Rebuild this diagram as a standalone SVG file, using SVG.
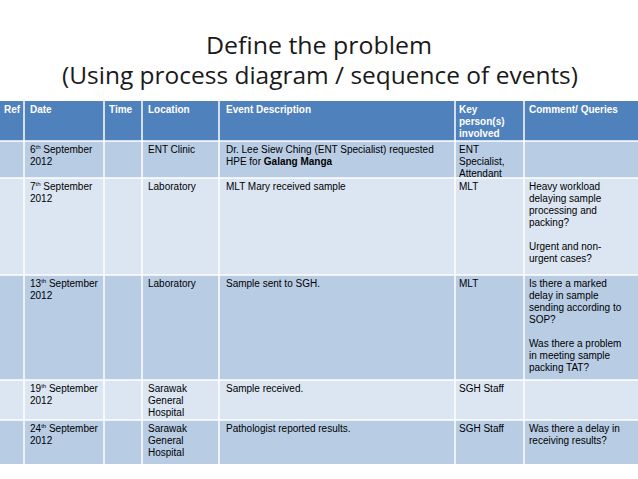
<svg xmlns="http://www.w3.org/2000/svg" width="638" height="479" viewBox="0 0 638 479">
<style>
.t{font-family:"Open Sans","DejaVu Sans",sans-serif;font-size:23px;fill:#1a1a1a;text-anchor:middle}
.h{font-family:"Liberation Sans",Arial,sans-serif;font-size:10px;font-weight:bold;fill:#fff}
.c{font-family:"Liberation Sans",Arial,sans-serif;font-size:10px;fill:#000}
.hd{fill:#4f81bd}.d{fill:#b8cce4}.l{fill:#dce6f2}
line{stroke:#fff;stroke-width:1.5}
</style>
<rect width="638" height="479" fill="#fff"/>
<text class="t" x="319" y="54" textLength="226" lengthAdjust="spacingAndGlyphs">Define the problem</text>
<text class="t" x="320" y="84" textLength="516" lengthAdjust="spacingAndGlyphs">(Using process diagram / sequence of events)</text>
<rect class="hd" x="0" y="101" width="638" height="40"/>
<rect class="d" x="0" y="141" width="638" height="37"/>
<rect class="l" x="0" y="178" width="638" height="97"/>
<rect class="d" x="0" y="275" width="638" height="105"/>
<rect class="l" x="0" y="380" width="638" height="40"/>
<rect class="d" x="0" y="420" width="638" height="44"/>
<g id="grid">
<line x1="0" y1="141" x2="638" y2="141" stroke-width="3"/>
<line x1="0" y1="178" x2="638" y2="178"/>
<line x1="0" y1="275" x2="638" y2="275"/>
<line x1="0" y1="380" x2="638" y2="380"/>
<line x1="0" y1="420" x2="638" y2="420"/>
<line x1="24" y1="101" x2="24" y2="464"/>
<line x1="104" y1="101" x2="104" y2="464"/>
<line x1="142" y1="101" x2="142" y2="464"/>
<line x1="219" y1="101" x2="219" y2="464"/>
<line x1="455" y1="101" x2="455" y2="464"/>
<line x1="524" y1="101" x2="524" y2="464"/>
</g>
<g id="header">
<text class="h" x="4" y="113">Ref</text>
<text class="h" x="30" y="113">Date</text>
<text class="h" x="109" y="113">Time</text>
<text class="h" x="148" y="113">Location</text>
<text class="h" x="226" y="113">Event Description</text>
<text class="h" x="459" y="113">Key</text>
<text class="h" x="459" y="125">person(s)</text>
<text class="h" x="459" y="137">involved</text>
<text class="h" x="529" y="113">Comment/ Queries</text>
</g>
<g id="row1">
<text class="c" x="30" y="153">6<tspan font-size="6" dy="-4">th</tspan><tspan dy="4"> September</tspan></text>
<text class="c" x="30" y="165">2012</text>
<text class="c" x="148" y="153">ENT Clinic</text>
<text class="c" x="226" y="153">Dr. Lee Siew Ching (ENT Specialist) requested</text>
<text class="c" x="226" y="165">HPE for <tspan font-weight="bold">Galang Manga</tspan></text>
<text class="c" x="459" y="153">ENT</text>
<text class="c" x="459" y="165">Specialist,</text>
<text class="c" x="459" y="177">Attendant</text>
</g>
<g id="row2">
<text class="c" x="30" y="190">7<tspan font-size="6" dy="-4">th</tspan><tspan dy="4"> September</tspan></text>
<text class="c" x="30" y="202">2012</text>
<text class="c" x="148" y="190">Laboratory</text>
<text class="c" x="226" y="190">MLT Mary received sample</text>
<text class="c" x="459" y="190">MLT</text>
<text class="c" x="529" y="190">Heavy workload</text>
<text class="c" x="529" y="202">delaying sample</text>
<text class="c" x="529" y="214">processing and</text>
<text class="c" x="529" y="226">packing?</text>
<text class="c" x="529" y="250">Urgent and non-</text>
<text class="c" x="529" y="262">urgent cases?</text>
</g>
<g id="row3">
<text class="c" x="30" y="287">13<tspan font-size="6" dy="-4">th</tspan><tspan dy="4"> September</tspan></text>
<text class="c" x="30" y="299">2012</text>
<text class="c" x="148" y="287">Laboratory</text>
<text class="c" x="226" y="287">Sample sent to SGH.</text>
<text class="c" x="459" y="287">MLT</text>
<text class="c" x="529" y="287">Is there a marked</text>
<text class="c" x="529" y="299">delay in sample</text>
<text class="c" x="529" y="311">sending according to</text>
<text class="c" x="529" y="323">SOP?</text>
<text class="c" x="529" y="347">Was there a problem</text>
<text class="c" x="529" y="359">in meeting sample</text>
<text class="c" x="529" y="371">packing TAT?</text>
</g>
<g id="row4">
<text class="c" x="30" y="392">19<tspan font-size="6" dy="-4">th</tspan><tspan dy="4"> September</tspan></text>
<text class="c" x="30" y="404">2012</text>
<text class="c" x="148" y="392">Sarawak</text>
<text class="c" x="148" y="404">General</text>
<text class="c" x="148" y="416">Hospital</text>
<text class="c" x="226" y="392">Sample received.</text>
<text class="c" x="459" y="392">SGH Staff</text>
</g>
<g id="row5">
<text class="c" x="30" y="432">24<tspan font-size="6" dy="-4">th</tspan><tspan dy="4"> September</tspan></text>
<text class="c" x="30" y="444">2012</text>
<text class="c" x="148" y="432">Sarawak</text>
<text class="c" x="148" y="444">General</text>
<text class="c" x="148" y="456">Hospital</text>
<text class="c" x="226" y="432">Pathologist reported results.</text>
<text class="c" x="459" y="432">SGH Staff</text>
<text class="c" x="529" y="432">Was there a delay in</text>
<text class="c" x="529" y="444">receiving results?</text>
</g>
</svg>
